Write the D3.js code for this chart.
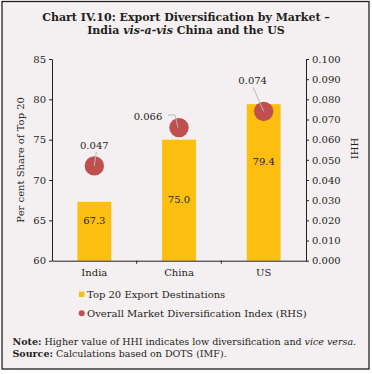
<!DOCTYPE html>
<html><head><meta charset="utf-8">
<script src="https://cdn.jsdelivr.net/npm/d3@7"></script>
<style>
html,body{margin:0;padding:0;background:#fff;}
svg{display:block;}
text{font-family:"DejaVu Serif",serif;fill:#231f20;}
</style></head>
<body>
<script>
const categories = ["India", "China", "US"];
const top20Share = [67.3, 75.0, 79.4];
const hhi = [0.047, 0.066, 0.074];
const leftTicks = [60, 65, 70, 75, 80, 85];
const rightTicks = [0, 0.01, 0.02, 0.03, 0.04, 0.05, 0.06, 0.07, 0.08, 0.09, 0.1];
const seriesNames = ["Top 20 Export Destinations", "Overall Market Diversification Index (RHS)"];

const W = 372, H = 374;
const m = {l: 52, r: 306, t: 59, b: 260.7};
const barColor = "#fdbf0f", dotColor = "#c0504d", bg = "#f4f0f1";

const svg = d3.select("body").append("svg").attr("width", W).attr("height", H);
svg.append("rect").attr("x", 2).attr("y", 1.5).attr("width", 367).attr("height", 367.5)
  .attr("fill", bg).attr("stroke", "#231f20").attr("stroke-width", 1.3);

// Title
const title = svg.append("text").attr("text-anchor", "middle").attr("font-weight", "bold").attr("font-size", 11);
title.append("tspan").attr("x", 186).attr("y", 20.5).text("Chart IV.10: Export Diversification by Market –");
const t2 = title.append("tspan").attr("x", 186).attr("y", 34);
t2.append("tspan").text("India ");
t2.append("tspan").attr("font-style", "italic").text("vis-a-vis");
t2.append("tspan").text(" China and the US");

const x = d3.scaleBand().domain(categories).range([m.l, m.r]).paddingInner(0).paddingOuter(0);
const yL = d3.scaleLinear().domain([60, 85]).range([m.b, m.t]);
const yR = d3.scaleLinear().domain([0, 0.1]).range([m.b, m.t]);
const barW = x.bandwidth() * 0.4;

// bars
svg.selectAll("rect.bar").data(top20Share).join("rect").attr("class", "bar")
  .attr("x", (d, i) => x(categories[i]) + x.bandwidth() / 2 - barW / 2)
  .attr("y", d => yL(d)).attr("width", barW).attr("height", d => m.b - yL(d))
  .attr("fill", barColor);

// bar labels (offset below bar top, px)
const barLabelDy = [19, 60, 57];
svg.selectAll("text.bl").data(top20Share).join("text").attr("class", "bl")
  .attr("x", (d, i) => x(categories[i]) + x.bandwidth() / 2)
  .attr("y", (d, i) => yL(d) + barLabelDy[i] + 3.5)
  .attr("text-anchor", "middle").attr("font-size", 10).text(d => d.toFixed(1));

// axes
const axisStyle = g => {
  g.selectAll("path,line").attr("stroke", "#231f20").attr("stroke-width", 1);
  g.selectAll("text").attr("font-size", 10).attr("font-family", "DejaVu Serif").attr("fill", "#231f20");
};
svg.append("g").attr("transform", `translate(${m.l},0)`)
  .call(d3.axisLeft(yL).tickValues(leftTicks).tickSize(3).tickSizeOuter(0).tickPadding(3).tickFormat(d3.format("d")))
  .call(axisStyle);
svg.append("g").attr("transform", `translate(${m.r},0)`)
  .call(d3.axisRight(yR).tickValues(rightTicks).tickSize(3).tickSizeOuter(0).tickPadding(3).tickFormat(d3.format(".3f")))
  .call(axisStyle);
const xb = svg.append("g").attr("transform", `translate(0,${m.b})`)
  .call(d3.axisBottom(x).tickSize(0).tickSizeOuter(0).tickPadding(8))
  .call(axisStyle);
xb.selectAll("line.sep").data(categories.slice(1)).join("line").attr("class", "sep")
  .attr("x1", d => x(d)).attr("x2", d => x(d)).attr("y1", 0).attr("y2", 3).attr("stroke", "#231f20");

// axis titles
svg.append("text").attr("transform", `translate(24,${(m.t + m.b) / 2}) rotate(-90)`)
  .attr("text-anchor", "middle").attr("font-size", 10).text("Per cent Share of Top 20");
svg.append("text").attr("transform", `translate(351,148.5) rotate(90)`)
  .attr("text-anchor", "middle").attr("font-size", 10).text("HHI");

// dots
const cx = i => x(categories[i]) + x.bandwidth() / 2;
// label offsets relative to dot centre (px) and leader-line paths
const lblOff = [[0, -20], [-31, -11.5], [-11, -30.5]];
const leader = [
  (px, py) => [[px + 2, py - 14], [px, py]],
  (px, py) => [[px - 11, py - 12.5], [px - 4, py - 12.5], [px - 1, py]],
  (px, py) => [[px - 10.5, py - 24], [px, py]]
];
svg.selectAll("circle.dot").data(hhi).join("circle").attr("class", "dot")
  .attr("cx", (d, i) => cx(i)).attr("cy", d => yR(d)).attr("r", 9.7).attr("fill", dotColor);
svg.selectAll("path.lead").data(hhi).join("path").attr("class", "lead")
  .attr("d", (d, i) => d3.line()(leader[i](cx(i), yR(d))))
  .attr("fill", "none").attr("stroke", "#b8b8b8").attr("stroke-width", 1);
svg.selectAll("text.dl").data(hhi).join("text").attr("class", "dl")
  .attr("x", (d, i) => cx(i) + lblOff[i][0]).attr("y", (d, i) => yR(d) + lblOff[i][1] + 3.5)
  .attr("text-anchor", "middle").attr("font-size", 10).text(d => d.toFixed(3));

// legend
const lg = svg.append("g");
lg.append("rect").attr("x", 79).attr("y", 291.5).attr("width", 5.5).attr("height", 5.5).attr("fill", barColor);
lg.append("text").attr("x", 87).attr("y", 297.5).attr("font-size", 10).text(seriesNames[0]);
lg.append("circle").attr("cx", 81.7).attr("cy", 313.3).attr("r", 3).attr("fill", dotColor);
lg.append("text").attr("x", 87).attr("y", 317).attr("font-size", 10).text(seriesNames[1]);

// note
const n1 = svg.append("text").attr("x", 12.5).attr("y", 344.5).attr("font-size", 9.5);
n1.append("tspan").attr("font-weight", "bold").text("Note:");
n1.append("tspan").text(" Higher value of HHI indicates low diversification and ");
n1.append("tspan").attr("font-style", "italic").text("vice versa");
n1.append("tspan").text(".");
const n2 = svg.append("text").attr("x", 12.5).attr("y", 356.5).attr("font-size", 9.5);
n2.append("tspan").attr("font-weight", "bold").text("Source:");
n2.append("tspan").text(" Calculations based on DOTS (IMF).");
</script>
</body></html>
